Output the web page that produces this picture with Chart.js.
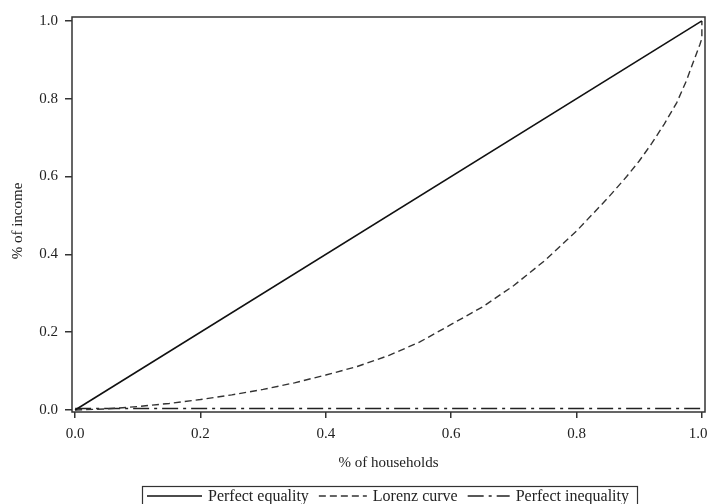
<!DOCTYPE html>
<html>
<head>
<meta charset="utf-8">
<script src="https://cdn.jsdelivr.net/npm/chart.js@4.4.1/dist/chart.umd.min.js"></script>
<style>
  html, body { margin: 0; padding: 0; background: #fff; }
  #wrap { width: 709px; height: 504px; position: relative; }
</style>
</head>
<body>
<div id="wrap"><canvas id="c" width="709" height="504"></canvas></div>
<script>
// ---- data ----
const seriesLabels = ['Perfect equality', 'Lorenz curve', 'Perfect inequality'];
const equalityX = [0, 1];
const equalityY = [0, 1];
const lorenzX = [0, 0.05, 0.1, 0.15, 0.2, 0.25, 0.3, 0.35, 0.4, 0.45, 0.5, 0.55, 0.6, 0.65, 0.7, 0.75, 0.8, 0.85, 0.88, 0.9, 0.92, 0.94, 0.96, 0.975, 0.99, 0.997, 1.0, 1.0];
const lorenzY = [0, 0.003, 0.009, 0.017, 0.027, 0.039, 0.053, 0.07, 0.09, 0.112, 0.14, 0.175, 0.22, 0.265, 0.32, 0.385, 0.46, 0.545, 0.6, 0.64, 0.685, 0.735, 0.79, 0.845, 0.91, 0.94, 0.955, 1.0];
const inequalityX = [0, 1];
const inequalityY = [0.004, 0.004];
const xTicks = [0, 0.2, 0.4, 0.6, 0.8, 1.0];
const yTicks = [0, 0.2, 0.4, 0.6, 0.8, 1.0];
const xTitle = '% of households';
const yTitle = '% of income';

const pts = (xs, ys) => xs.map((x, i) => ({ x: x, y: ys[i] }));

const FONT = "'Liberation Serif', 'DejaVu Serif', serif";
const INK = '#222';

const datasets = [
  { label: seriesLabels[0], data: pts(equalityX, equalityY), borderColor: '#111', borderWidth: 1.6, borderDash: [] },
  { label: seriesLabels[1], data: pts(lorenzX, lorenzY), borderColor: '#333', borderWidth: 1.4, borderDash: [7, 4] },
  { label: seriesLabels[2], data: pts(inequalityX, inequalityY), borderColor: '#222', borderWidth: 1.4, borderDash: [16, 5, 3, 5] }
].map(d => Object.assign(d, { showLine: true, pointRadius: 0, fill: false, tension: 0 }));

const decor = {
  id: 'decor',
  afterDraw(chart) {
    const ctx = chart.ctx;
    const a = chart.chartArea;
    ctx.save();
    // plot box
    ctx.strokeStyle = '#333';
    ctx.lineWidth = 1.5;
    ctx.setLineDash([]);
    ctx.strokeRect(a.left, a.top, a.right - a.left, a.bottom - a.top);
    // axis titles
    ctx.fillStyle = INK;
    ctx.font = '15px ' + FONT;
    ctx.textAlign = 'center';
    ctx.textBaseline = 'middle';
    ctx.fillText(xTitle, (a.left + a.right) / 2, 463);
    ctx.translate(18, 221);
    ctx.rotate(-Math.PI / 2);
    ctx.fillText(yTitle, 0, 0);
    ctx.restore();

    // legend
    ctx.save();
    ctx.font = '16px ' + FONT;
    ctx.textBaseline = 'middle';
    ctx.textAlign = 'left';
    const sampleW = [55, 48, 42];
    const gap = 6, itemGap = 10;
    const boxL = 142.5, boxT = 486.5, boxR = 637.5;
    ctx.strokeStyle = '#333';
    ctx.lineWidth = 1.2;
    ctx.strokeRect(boxL, boxT, boxR - boxL, 30);
    let x = 147;
    const y = 496;
    chart.data.datasets.forEach((d, i) => {
      ctx.strokeStyle = d.borderColor;
      ctx.lineWidth = d.borderWidth;
      ctx.setLineDash(d.borderDash);
      ctx.beginPath();
      ctx.moveTo(x, y);
      ctx.lineTo(x + sampleW[i], y);
      ctx.stroke();
      ctx.setLineDash([]);
      ctx.fillStyle = INK;
      ctx.fillText(d.label, x + sampleW[i] + gap, y + 1);
      x += sampleW[i] + gap + ctx.measureText(d.label).width + itemGap;
    });
    ctx.restore();
  }
};

new Chart(document.getElementById('c'), {
  type: 'scatter',
  data: { datasets: datasets },
  options: {
    responsive: false,
    animation: false,
    devicePixelRatio: 1,
    layout: { padding: { left: 0, right: 4, top: 17, bottom: 0 } },
    plugins: { legend: { display: false }, tooltip: { enabled: false } },
    scales: {
      x: {
        type: 'linear',
        min: -0.005,
        max: 1.005,
        afterBuildTicks: s => { s.ticks = xTicks.map(v => ({ value: v })); },
        afterFit: s => { s.height = 92; s.paddingLeft = 0; s.paddingRight = 0; },
        border: { display: false },
        grid: { display: true, drawOnChartArea: false, drawTicks: true, tickLength: 6, color: '#333', lineWidth: 1.5 },
        ticks: {
          color: INK, font: { family: FONT, size: 15 }, padding: 7, maxRotation: 0,
          callback: (v, i, arr) => Number(v).toFixed(1) + (i === arr.length - 1 ? '  ' : '')
        },
        title: { display: false }
      },
      y: {
        type: 'linear',
        min: -0.005,
        max: 1.01,
        afterBuildTicks: s => { s.ticks = yTicks.map(v => ({ value: v })); },
        afterFit: s => { s.width = 72; s.paddingTop = 0; s.paddingBottom = 0; },
        border: { display: false },
        grid: { display: true, drawOnChartArea: false, drawTicks: true, tickLength: 7, color: '#333', lineWidth: 1.5 },
        ticks: { color: INK, font: { family: FONT, size: 15 }, padding: 7, callback: v => Number(v).toFixed(1) },
        title: { display: false }
      }
    }
  },
  plugins: [decor]
});
</script>
</body>
</html>
